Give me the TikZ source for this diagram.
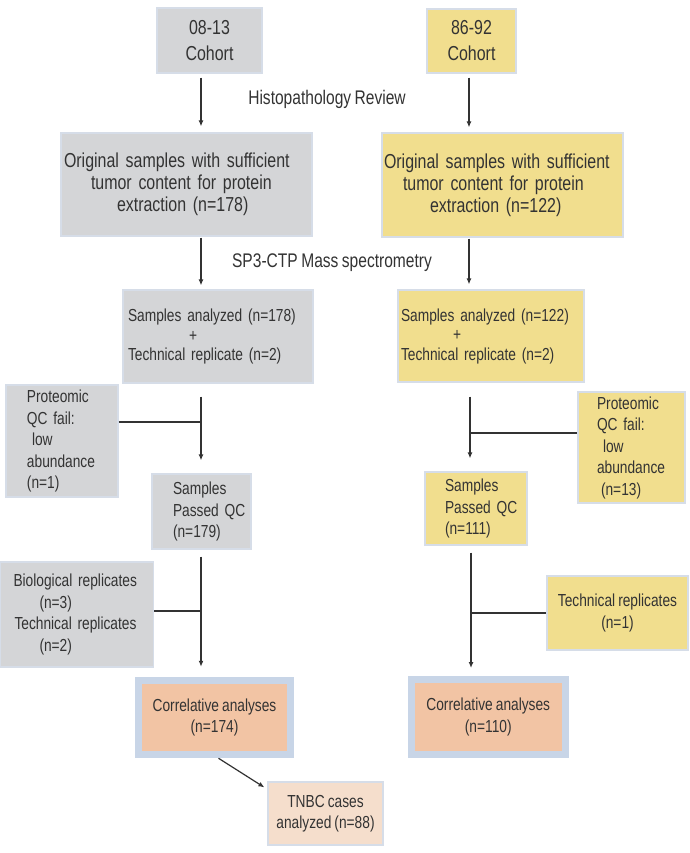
\documentclass[tikz,border=0pt]{standalone}
\usepackage{fontspec}
\setmainfont{Liberation Sans}[FakeStretch=0.79, WordSpace=0.8]
\usetikzlibrary{arrows.meta}
\definecolor{boxgray}{RGB}{212,213,215}
\definecolor{boxyel}{RGB}{241,222,142}
\definecolor{edgeblue}{RGB}{214,221,232}
\definecolor{corrblue}{RGB}{200,213,231}
\definecolor{corrorange}{RGB}{242,196,164}
\definecolor{tnbcfill}{RGB}{245,222,204}
\definecolor{txt}{RGB}{51,51,51}
\definecolor{linecol}{RGB}{50,50,50}
\begin{document}
\begin{tikzpicture}[x=1pt,y=-1pt,
  thinbox/.style={draw=edgeblue, line width=1.2pt, inner sep=0pt, text=txt},
  graybox/.style={thinbox, fill=boxgray},
  yelbox/.style={thinbox, fill=boxyel},
  corrbox/.style={draw=corrblue, line width=7pt, fill=corrorange, inner sep=0pt, align=center, text=txt, font=\fontsize{17.4}{21.5}\selectfont},
  bigtext/.style={font=\fontsize{20.2}{22}\selectfont},
  normtext/.style={font=\fontsize{17.4}{21.5}\selectfont},
  labeltext/.style={font=\fontsize{19.7}{21}\selectfont, text=txt, inner sep=0pt},
  conn/.style={draw=linecol, line width=1.2pt, -{Latex[length=6pt,width=5pt]}},
  junc/.style={draw=linecol, line width=1.8pt}
]
\fill[white] (0,0) rectangle (689,853);
\useasboundingbox (0,0) rectangle (689,853);

% cohorts
\node[graybox, bigtext, align=center, minimum width=105pt, minimum height=65pt] (c1) at (209.5,40.5) {08-13\\[4pt]Cohort};
\node[yelbox, bigtext, align=center, minimum width=89pt, minimum height=64pt] (c2) at (471.5,41) {86-92\\[4pt]Cohort};

\node[labeltext] (hr) at (327,99) {Histopathology Review};

% original samples
\node[graybox, bigtext, text width=245pt, align=left, minimum width=251pt, minimum height=103pt] (o1) at (186.5,184.5)
  {\mbox{Original samples with sufficient}\\\hspace*{27pt}tumor content for protein\\\hspace*{53pt}extraction (n=178)};
\node[yelbox, bigtext, text width=237pt, align=left, minimum width=241pt, minimum height=104pt] (o2) at (502.5,185)
  {\mbox{Original samples with sufficient}\\\hspace*{19pt}tumor content for protein\\\hspace*{46pt}extraction (n=122)};

\node[labeltext] (ms) at (332,263) {SP3-CTP Mass spectrometry};

% samples analyzed
\node[graybox, normtext, text width=180pt, align=left, minimum width=190pt, minimum height=93pt] (a1) at (218,336.5)
  {\mbox{Samples analyzed (n=178)}\\[-2pt]\hspace*{61pt}+\\[-2pt]\mbox{Technical replicate (n=2)}};
\node[yelbox, normtext, text width=180pt, align=left, minimum width=186pt, minimum height=92pt] (a2) at (491,336)
  {\mbox{Samples analyzed (n=122)}\\[-2pt]\hspace*{52pt}+\\[-2pt]\mbox{Technical replicate (n=2)}};

% QC fail
\node[graybox, normtext, text width=70pt, align=left, minimum width=112pt, minimum height=112pt] (q1) at (62,441)
  {Proteomic\\QC fail:\\\hspace*{5pt}low\\\mbox{abundance}\\(n=1)};
\node[yelbox, normtext, text width=69pt, align=left, minimum width=107pt, minimum height=111pt] (q2) at (631.5,447.5)
  {Proteomic\\QC fail:\\\hspace*{6pt}low\\\mbox{abundance}\\\hspace*{4pt}(n=13)};

% passed QC
\node[graybox, normtext, text width=57pt, align=left, minimum width=99pt, minimum height=75pt] (p1) at (201.5,511.5)
  {\mbox{Samples}\\\mbox{Passed QC}\\\mbox{(n=179)}};
\node[yelbox, normtext, text width=62pt, align=left, minimum width=102pt, minimum height=73pt] (p2) at (476,508.5)
  {\mbox{Samples}\\\mbox{Passed QC}\\\mbox{(n=111)}};

% replicates
\node[graybox, normtext, text width=127pt, align=left, minimum width=153pt, minimum height=105pt] (b1) at (77,614.5)
  {\mbox{Biological replicates}\\\hspace*{26pt}(n=3)\\\hspace*{1pt}\mbox{Technical replicates}\\\hspace*{26pt}(n=2)};
\node[yelbox, normtext, align=center, minimum width=141pt, minimum height=74pt] (b2) at (617.5,613)
  {Technical replicates\\(n=1)};

% correlative analyses
\node[corrbox, minimum width=152pt, minimum height=74.5pt] (k1) at (214.5,717.5) {Correlative analyses\\(n=174)};
\node[corrbox, minimum width=153.5pt, minimum height=74.5pt] (k2) at (488.25,716.75) {Correlative analyses\\(n=110)};

% TNBC
\node[thinbox, fill=tnbcfill, normtext, align=center, minimum width=115pt, minimum height=63pt] (t1) at (325.5,813.5)
  {TNBC cases\\analyzed (n=88)};

% connector guides
\coordinate (Lx) at (201,0);
\coordinate (Rx) at (469,0);
\coordinate (Rx2) at (470,0);
\coordinate (Rx3) at (471,0);
\coordinate (jL1) at (201,422);
\coordinate (jR1) at (470,433);
\coordinate (jL2) at (201,611);
\coordinate (jR2) at (471,613);

% left column
\draw[conn, shorten <=4pt, shorten >=6pt] (c1.south -| Lx) -- (o1.north -| Lx);
\draw[conn, shorten <=1pt, shorten >=4pt] (o1.south -| Lx) -- (a1.north -| Lx);
\draw[conn, shorten <=13pt, shorten >=13pt] (a1.south -| Lx) -- (p1.north -| Lx);
\draw[junc] (q1.east |- jL1) -- (jL1);
\draw[conn, shorten <=7pt, shorten >=10pt] (p1.south -| Lx) -- (k1.north -| Lx);
\draw[junc] (b1.east |- jL2) -- (jL2);
\draw[conn] ([xshift=4pt]k1.south) -- ([xshift=-3pt,yshift=-6pt]t1.north west);

% right column
\draw[conn, shorten <=4pt, shorten >=5pt] (c2.south -| Rx) -- (o2.north -| Rx);
\draw[conn, shorten <=1pt, shorten >=5pt] (o2.south -| Rx) -- (a2.north -| Rx);
\draw[conn, shorten <=14pt, shorten >=13pt] (a2.south -| Rx2) -- (p2.north -| Rx2);
\draw[junc] (jR1) -- (q2.west |- jR1);
\draw[conn, shorten <=7pt, shorten >=8pt] (p2.south -| Rx3) -- (k2.north -| Rx3);
\draw[junc] (jR2) -- (b2.west |- jR2);
\end{tikzpicture}
\end{document}
